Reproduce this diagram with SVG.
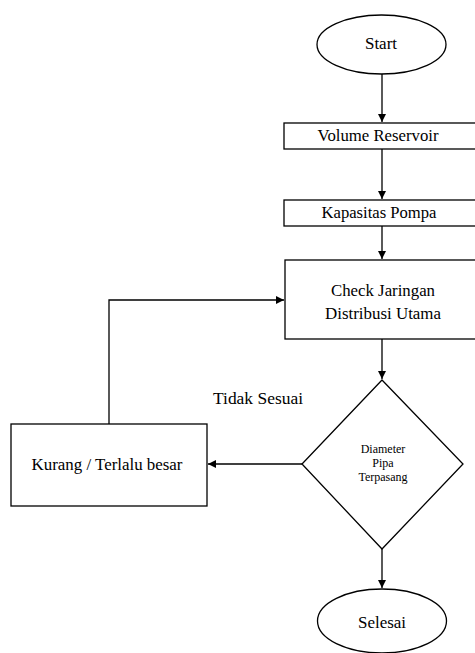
<svg xmlns="http://www.w3.org/2000/svg" width="475" height="653" viewBox="0 0 475 653">
<style>
.s{fill:#fff;stroke:#000;stroke-width:1.3}
.c{fill:none;stroke:#000;stroke-width:1.3}
</style>
<defs>
<marker id="a" viewBox="0 0 10 10" refX="10" refY="5" markerWidth="8" markerHeight="8" markerUnits="userSpaceOnUse" orient="auto">
<path d="M0,0 L10,5 L0,10 Z" fill="#000"/>
</marker>
</defs>
<g id="connectors">
<line class="c" x1="382" y1="74" x2="382" y2="122" marker-end="url(#a)"/>
<line class="c" x1="382" y1="149" x2="382" y2="199" marker-end="url(#a)"/>
<line class="c" x1="382" y1="226" x2="382" y2="259" marker-end="url(#a)"/>
<line class="c" x1="382" y1="339" x2="382" y2="379" marker-end="url(#a)"/>
<line class="c" x1="302" y1="464" x2="208" y2="464" marker-end="url(#a)"/>
<line class="c" x1="382" y1="549" x2="382" y2="588" marker-end="url(#a)"/>
<polyline class="c" points="109,424 109,300 284,300" marker-end="url(#a)"/>
<text font-family="Liberation Serif" font-size="17" text-anchor="middle" x="258" y="404" textLength="90" lengthAdjust="spacingAndGlyphs">Tidak Sesuai</text>
</g>
<g id="start">
<ellipse class="s" cx="381.5" cy="44.5" rx="64.5" ry="29.5"/>
<text font-family="Liberation Serif" font-size="17" text-anchor="middle" x="381" y="49">Start</text>
</g>
<g id="volume">
<rect class="s" x="284" y="123" width="200" height="26"/>
<text font-family="Liberation Serif" font-size="16" text-anchor="middle" x="378" y="141" textLength="121" lengthAdjust="spacingAndGlyphs">Volume Reservoir</text>
</g>
<g id="kapasitas">
<rect class="s" x="284" y="200" width="200" height="26"/>
<text font-family="Liberation Serif" font-size="16" text-anchor="middle" x="379" y="218" textLength="115" lengthAdjust="spacingAndGlyphs">Kapasitas Pompa</text>
</g>
<g id="check">
<rect class="s" x="285" y="260" width="200" height="79"/>
<text font-family="Liberation Serif" font-size="17" text-anchor="middle" x="383" y="296" textLength="104" lengthAdjust="spacingAndGlyphs">Check Jaringan</text>
<text font-family="Liberation Serif" font-size="17" text-anchor="middle" x="383" y="319" textLength="116" lengthAdjust="spacingAndGlyphs">Distribusi Utama</text>
</g>
<g id="diameter">
<polygon class="s" points="382,380 463,464 382,549 302,464"/>
<text font-family="Liberation Serif" font-size="12" text-anchor="middle" x="383" y="453">Diameter</text>
<text font-family="Liberation Serif" font-size="12" text-anchor="middle" x="383" y="467">Pipa</text>
<text font-family="Liberation Serif" font-size="12" text-anchor="middle" x="383" y="481">Terpasang</text>
</g>
<g id="kurang">
<rect class="s" x="11" y="424" width="196" height="82"/>
<text font-family="Liberation Serif" font-size="17" text-anchor="middle" x="107" y="470" textLength="151" lengthAdjust="spacingAndGlyphs">Kurang / Terlalu besar</text>
</g>
<g id="selesai">
<ellipse class="s" cx="382" cy="621" rx="64.5" ry="32"/>
<text font-family="Liberation Serif" font-size="17" text-anchor="middle" x="382" y="628">Selesai</text>
</g>
</svg>
